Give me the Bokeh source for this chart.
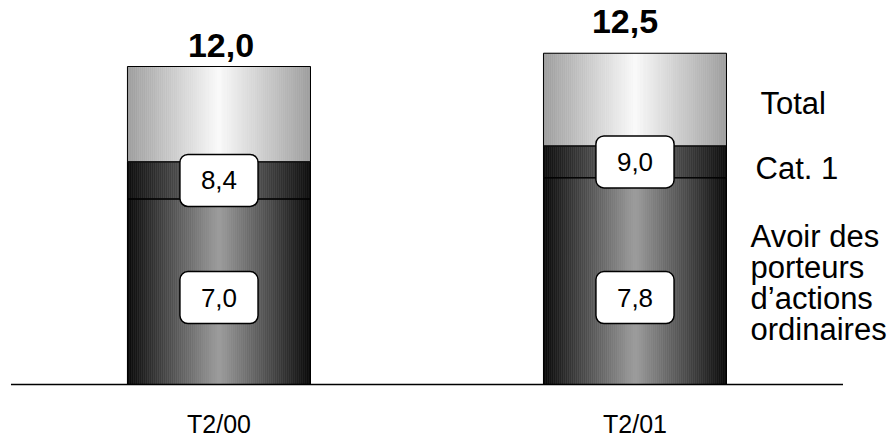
import numpy as np
from bokeh.plotting import figure
from bokeh.models import ColumnDataSource, Range1d
from bokeh.core.properties import value
from bokeh.embed import file_html
from bokeh.resources import INLINE

# --- data -----------------------------------------------------------------
categories = ["T2/00", "T2/01"]
avoir = [7.0, 7.8]      # Avoir des porteurs d'actions ordinaires
cat1 = [8.4, 9.0]       # cumulative level including Cat. 1
total = [12.0, 12.5]    # Total
legend_lines = ["Avoir des", "porteurs", "d\u2019actions", "ordinaires"]


def fr(v):
    return f"{v:.1f}".replace(".", ",")


FONT = "Liberation Sans"
BAR_W = 0.44
N_STRIPS = 92
xs = list(range(len(categories)))

p = figure(width=892, height=439, output_backend="svg", toolbar_location=None,
           x_range=Range1d(-0.5252, 1.619), y_range=Range1d(-2.0755, 14.4906),
           x_axis_location=None, y_axis_location=None, min_border=0,
           background_fill_color="white", border_fill_color="white")
p.outline_line_color = None
p.grid.visible = False


def grey(v):
    v = int(round(max(0, min(255, v))))
    return "#%02x%02x%02x" % (v, v, v)


# cylinder-like shading: dark edges, bright centre stripe
layers = [
    ([0.0] * len(categories), avoir, 10, 158),
    (avoir, cat1, 14, 128),
    (cat1, total, 158, 250),
]

strips = dict(left=[], right=[], bottom=[], top=[], color=[])
outlines = dict(left=[], right=[], bottom=[], top=[])
for lo, hi, edge, centre in layers:
    for i, x in enumerate(xs):
        x0 = x - BAR_W / 2
        step = BAR_W / N_STRIPS
        for k in range(N_STRIPS):
            t = (k + 0.5) / N_STRIPS
            d = 1 - abs(2 * t - 1)
            strips["left"].append(x0 + k * step)
            strips["right"].append(x0 + (k + 1) * step)
            strips["bottom"].append(lo[i])
            strips["top"].append(hi[i])
            strips["color"].append(grey(edge + (centre - edge) * d))
        outlines["left"].append(x0)
        outlines["right"].append(x0 + BAR_W)
        outlines["bottom"].append(lo[i])
        outlines["top"].append(hi[i])

p.quad(left="left", right="right", bottom="bottom", top="top",
       fill_color="color", line_color="color", line_width=0.6,
       source=ColumnDataSource(strips))
p.quad(left="left", right="right", bottom="bottom", top="top",
       fill_color=None, line_color="black", line_width=1,
       source=ColumnDataSource(outlines))

# baseline
p.segment(x0=[-0.5], x1=[len(categories) - 0.5], y0=[0], y1=[0],
          line_color="black", line_width=1.5)

# totals above the bars
p.text(x=xs, y=total, text=[fr(v) for v in total],
       x_offset=[2, -10], y_offset=[-21, -32],
       text_font=value(FONT), text_font_style="bold", text_font_size="34px",
       text_align="center", text_baseline="alphabetic", text_color="black")

# boxed values inside the bars
box_style = dict(text_font=value(FONT), text_font_size="26px",
                 text_align="center", text_baseline="middle", text_color="black",
                 background_fill_color="white", border_line_color="black",
                 border_line_width=1.5, padding=(21, 17), border_radius=8)
p.text(x=xs, y=[(a + b) / 2 for a, b in zip(avoir, cat1)],
       text=[fr(v) for v in cat1], **box_style)
p.text(x=xs, y=[3.28] * len(xs), text=[fr(v) for v in avoir], **box_style)

# category labels
p.text(x=xs, y=[-1.49] * len(xs), text=categories,
       text_font=value(FONT), text_font_size="25px",
       text_align="center", text_baseline="alphabetic", text_color="black")

# series names on the right
p.text(x=[1.3017], y=[10.60], text=["Total"],
       text_font=value(FONT), text_font_size="31px",
       text_align="left", text_baseline="alphabetic", text_color="black")
p.text(x=[1.2897], y=[8.15], text=["Cat. 1"],
       text_font=value(FONT), text_font_size="31px",
       text_align="left", text_baseline="alphabetic", text_color="black")
p.text(x=[1.2777] * 4, y=[5.58, 4.41, 3.24, 2.07], text=legend_lines,
       text_font=value(FONT), text_font_size="31px",
       text_align="left", text_baseline="alphabetic", text_color="black")

open("out.html", "w").write(file_html(p, INLINE))
